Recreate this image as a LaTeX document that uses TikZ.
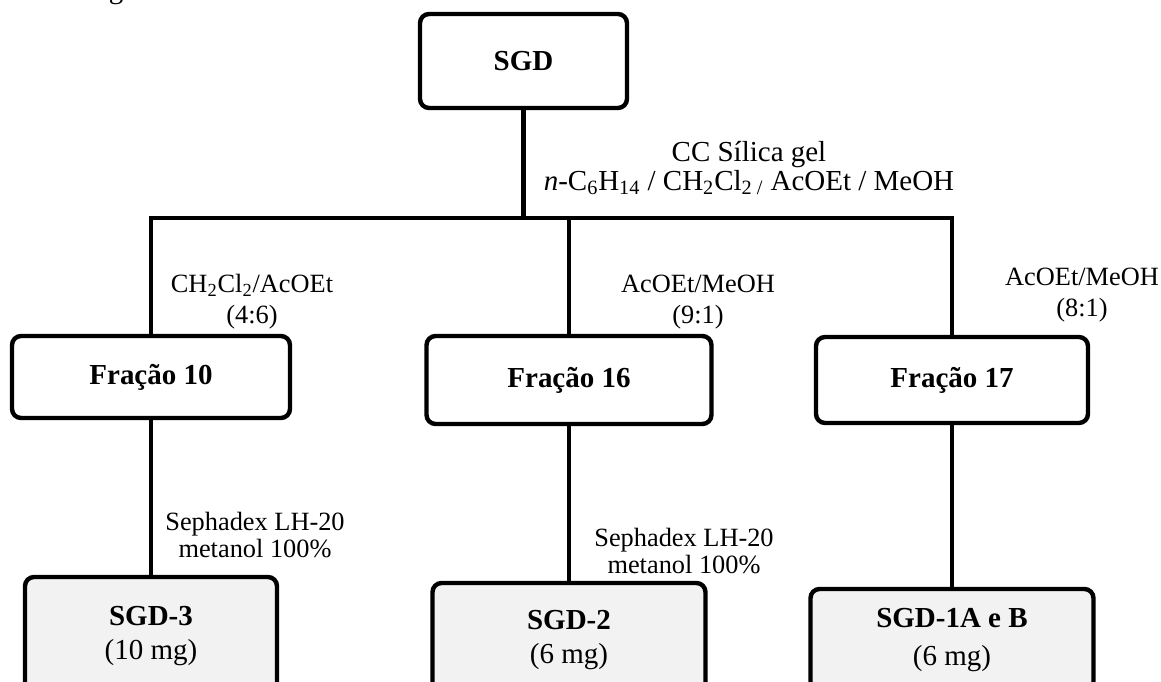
\documentclass[tikz,border=0pt]{standalone}
\usepackage{fontspec}
\setmainfont{Liberation Serif}
\usetikzlibrary{positioning}
\newcommand{\chemsub}[1]{\textsubscript{#1}}
\tikzset{
    fracbox/.style={rectangle,draw,line width=2.5pt,rounded corners=1.8mm,align=center,inner sep=0pt,font=\fontsize{16.5}{20}\selectfont\bfseries},
    purebox/.style={fracbox,fill=black!5,font=\fontsize{16.5}{19}\selectfont},
    condlabel/.style={align=center,inner sep=0pt,font=\fontsize{15}{17.5}\selectfont},
    stepline/.style={line width=2.4pt}
}

\begin{document}
\begin{tikzpicture}[x=0.02cm,y=-0.02cm]
            \useasboundingbox (0,0) rectangle (1161,682);
            \node[anchor=base,inner sep=0pt,font=\fontsize{16.5}{20}\selectfont] (gfrag) at (116,-1) {g};
            \node[fracbox,minimum width=4.14cm,minimum height=1.88cm] (sgd) at (523.5,61) {SGD};
            \node[fracbox,minimum width=5.56cm,minimum height=1.64cm] (f10) at (151,377) {Fração 10};
            \node[fracbox,minimum width=5.7cm,minimum height=1.76cm] (f16) at (569,380) {Fração 16};
            \node[fracbox,minimum width=5.44cm,minimum height=1.72cm] (f17) at (952,380) {Fração 17};
            \node[purebox,minimum width=5.04cm,minimum height=2.36cm] (sgd3) at (151,636) {\textbf{SGD-3}\\(10 mg)};
            \node[purebox,minimum width=5.46cm,minimum height=2.28cm] (sgd2) at (569,640) {\textbf{SGD-2}\\(6 mg)};
            \node[purebox,minimum width=5.66cm,minimum height=2.04cm] (sgd1) at (952,640) {\textbf{SGD-1A e B}\\[3pt](6 mg)};
            % eluentes
            \node[condlabel,font=\fontsize{16.5}{16.5}\selectfont] (cc) at (749,168) {CC Sílica gel\\\textit{n}-C\chemsub{6}H\chemsub{14} / CH\chemsub{2}Cl\chemsub{2 /} AcOEt / MeOH};
            \node[condlabel] (e10) at (252,302) {CH\chemsub{2}Cl\chemsub{2}/AcOEt\\(4:6)};
            \node[condlabel] (e16) at (698,302) {AcOEt/MeOH\\(9:1)};
            \node[condlabel] (e17) at (1082,295) {AcOEt/MeOH\\(8:1)};
            \node[condlabel] (s10) at (255,535) {Sephadex LH-20\\[-2pt]metanol 100\%};
            \node[condlabel] (s16) at (684,551) {Sephadex LH-20\\[-2pt]metanol 100\%};
            % ligacoes
            \coordinate (split) at (523.5,218);
            \coordinate (barL) at (f10.north |- split);
            \coordinate (bar16) at (f16.north |- split);
            \coordinate (barR) at (f17.north |- split);
            \draw[stepline] (sgd) -- (split);
            \draw[stepline] (f10) -- (barL) -- (barR) -- (f17);
            \draw[stepline] (bar16) -- (f16);
            \draw[stepline] (f10) -- (sgd3);
            \draw[stepline] (f16) -- (sgd2);
            \draw[stepline] (f17) -- (sgd1);
        \end{tikzpicture}
\end{document}
